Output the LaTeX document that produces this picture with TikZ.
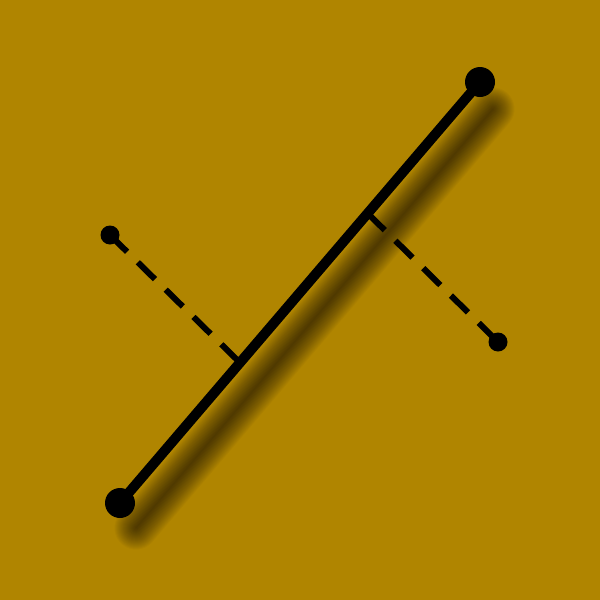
\documentclass[tikz,border=0pt]{standalone}
\usetikzlibrary{calc}
\definecolor{ochre}{RGB}{176,133,0}
\begin{document}
\begin{tikzpicture}[x=1pt,y=-1pt,
  enddot/.style={circle,fill=black,inner sep=0pt,minimum size=30pt},
  smalldot/.style={circle,fill=black,inner sep=0pt,minimum size=19pt},
  guide/.style={line width=6pt,dash pattern=on 24pt off 15pt}]
\fill[ochre] (0,0) rectangle (600,600);
\useasboundingbox (0,0) rectangle (600,600);
\coordinate (A) at (120,503);
\coordinate (B) at (480,82);
% soft shadow under the long segment
\foreach \w in {1,3,...,43}
  \draw[line width=\w pt,line cap=round,opacity=0.03] ($(A)+(16,25)$) -- ($(B)+(13,27)$);
\draw[line width=10pt] (A) -- (B);
\node[enddot] (a) at (A) {};
\node[enddot] (b) at (B) {};
\node[smalldot] (p) at (110,235) {};
\node[smalldot] (q) at (498,342) {};
\coordinate (f1) at ($(a)!1/3!(b)$);
\coordinate (f2) at ($(a)!0.688!(b)$);
\draw[guide] (p.center) -- (f1);
\draw[guide] (f2) -- (q.center);
\end{tikzpicture}
\end{document}
